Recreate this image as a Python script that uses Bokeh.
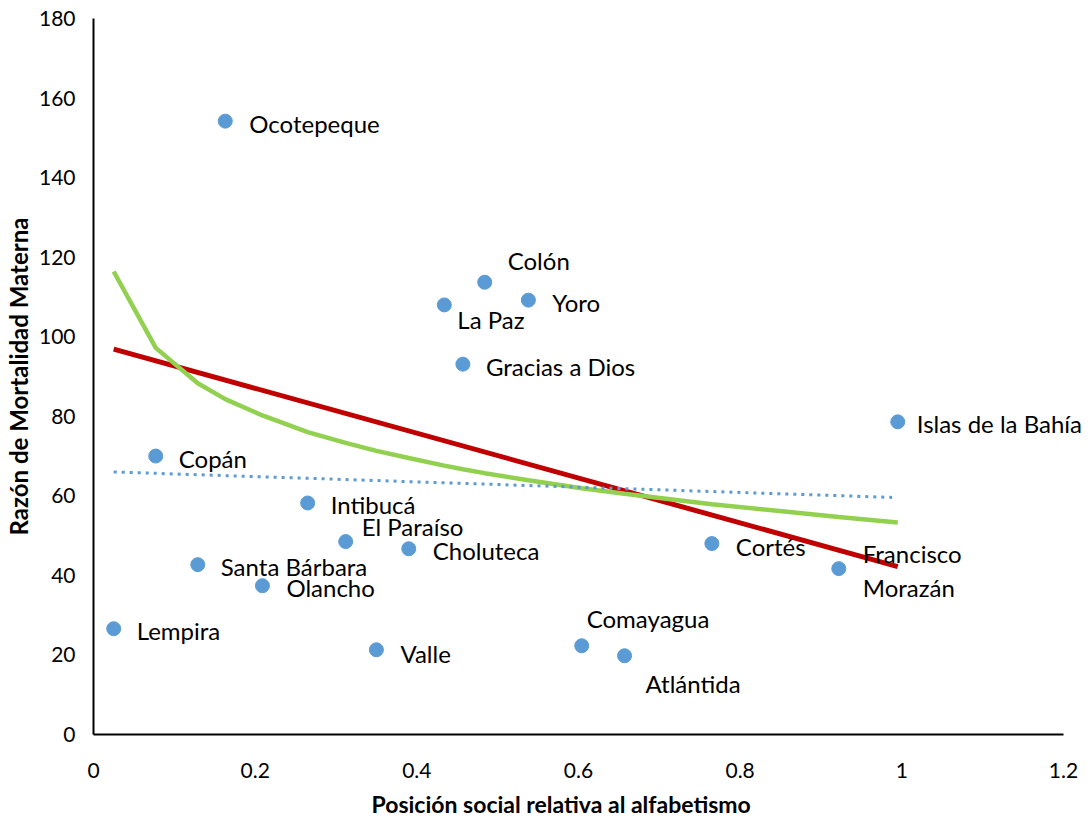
from bokeh.plotting import figure
from bokeh.models import Range1d, ColumnDataSource, FixedTicker, Title
from bokeh.core.properties import value
from bokeh.embed import file_html
from bokeh.resources import INLINE

# Data
departments = ["Ocotepeque", "Colón", "La Paz", "Yoro", "Gracias a Dios",
               "Islas de la Bahía", "Copán", "Intibucá", "El Paraíso", "Choluteca",
               "Cortés", "Francisco\nMorazán", "Santa Bárbara", "Olancho", "Lempira",
               "Valle", "Comayagua", "Atlántida"]
literacy_pos = [0.163, 0.484, 0.434, 0.538, 0.457,
                0.995, 0.077, 0.265, 0.312, 0.390,
                0.765, 0.922, 0.129, 0.209, 0.025,
                0.350, 0.604, 0.657]
mmr = [154.2, 113.7, 108.0, 109.2, 93.1,
       78.6, 70.0, 58.2, 48.5, 46.7,
       48.0, 41.7, 42.7, 37.4, 26.6,
       21.3, 22.3, 19.8]

# Logarithmic trend (green)
log_x = [0.025, 0.077, 0.129, 0.163, 0.209, 0.265, 0.312, 0.350, 0.390,
         0.434, 0.457, 0.484, 0.538, 0.604, 0.657, 0.765, 0.922, 0.995]
log_y = [116.4, 97.2, 88.3, 84.3, 80.2, 76.0, 73.3, 71.3, 69.5,
         67.6, 66.7, 65.7, 63.9, 61.9, 60.5, 57.9, 54.7, 53.3]
# Linear trend (red)
lin_x = [0.025, 0.995]
lin_y = [96.9, 42.2]
# Flat dotted trend (blue)
dot_x = [0.025, 0.988]
dot_y = [66.0, 59.6]

x_ticks = [0, 0.2, 0.4, 0.6, 0.8, 1.0, 1.2]
x_tick_labels = {0: "0", 0.2: "0.2", 0.4: "0.4", 0.6: "0.6", 0.8: "0.8", 1.0: "1", 1.2: "1.2"}
y_ticks = [0, 20, 40, 60, 80, 100, 120, 140, 160, 180]
x_title = "Posición social relativa al alfabetismo"
y_title = "Razón de Mortalidad Materna"

# label offsets in screen pixels (style); positive dy = downward
label_dx = [24, 23, 13, 24, 23, 19, 23, 23, 16, 24, 24, 24, 23, 24, 23, 24, 5, 21]
label_dy = [2, -22, 15, 2, 2, 2, 2, 2, -15, 2, 3, 2, 2, 2, 2, 4, -27, 28]

FONT = "Lato"

# frame extends a little past 1.2 so the right-most label is not clipped;
# the x axis line itself stops at 1.2 (bounds)
p = figure(width=1091, height=824, output_backend="svg", toolbar_location=None,
           x_range=Range1d(0, 1.2322), y_range=Range1d(0, 180),
           min_border_left=10, min_border_right=2, min_border_top=18, min_border_bottom=10)
p.outline_line_color = None
p.grid.visible = False
p.background_fill_color = "white"

for ax in (p.xaxis[0], p.yaxis[0]):
    ax.major_tick_line_color = None
    ax.minor_tick_line_color = None
    ax.axis_line_color = "black"
    ax.axis_line_width = 2
    ax.major_label_text_font = FONT
    ax.major_label_text_font_size = "21px"
    ax.major_label_text_color = "black"
    ax.axis_label_text_font = FONT
    ax.axis_label_text_font_style = "bold"
    ax.axis_label_text_color = "black"

p.xaxis.ticker = FixedTicker(ticks=x_ticks)
p.xaxis.bounds = (0, 1.2)
p.xaxis.major_label_overrides = x_tick_labels
p.xaxis.major_label_standoff = 22

p.yaxis.ticker = FixedTicker(ticks=y_ticks)
p.yaxis.major_label_standoff = 12
p.yaxis.axis_label = y_title
p.yaxis.axis_label_standoff = 3
p.yaxis.axis_label_text_font_size = "24px"

p.add_layout(Title(text=x_title, align="left", offset=278, standoff=14,
                   vertical_align="bottom",
                   text_font=FONT, text_font_style="bold", text_font_size="23px",
                   text_color="black"), "below")

p.line(lin_x, lin_y, line_color="#C00000", line_width=5)
p.line(log_x, log_y, line_color="#92D050", line_width=4.5)
p.line(dot_x, dot_y, line_color="#5B9BD5", line_width=3, line_dash="3 5")

src = ColumnDataSource(dict(x=literacy_pos, y=mmr, name=departments,
                            dx=label_dx, dy=label_dy))
p.scatter("x", "y", source=src, size=14, fill_color="#5B9BD5", line_color="#5B9BD5")
p.text("x", "y", text="name", source=src, x_offset="dx", y_offset="dy",
       text_font=value(FONT), text_font_size="24px", text_color="black",
       text_baseline="middle", text_align="left", text_line_height=1.15)

open("out.html", "w").write(file_html(p, INLINE))
